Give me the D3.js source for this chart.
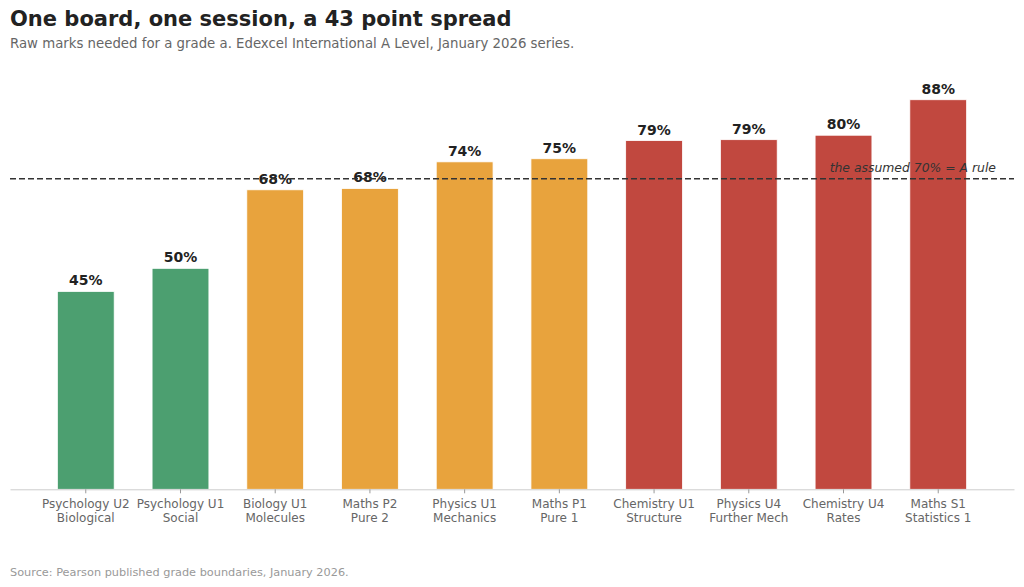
<!DOCTYPE html>
<html>
<head>
<meta charset="utf-8">
<script src="https://cdn.jsdelivr.net/npm/d3@7.9.0/dist/d3.min.js"></script>
<style>
  body { margin: 0; background: #fff; }
  svg { display: block; font-family: "DejaVu Sans", sans-serif; }
</style>
</head>
<body>
<svg id="chart" width="1024" height="587"></svg>
<script>
// data
const papers = ['Psychology U2', 'Psychology U1', 'Biology U1', 'Maths P2', 'Physics U1',
                'Maths P1', 'Chemistry U1', 'Physics U4', 'Chemistry U4', 'Maths S1'];
const units = ['Biological', 'Social', 'Molecules', 'Pure 2', 'Mechanics',
               'Pure 1', 'Structure', 'Further Mech', 'Rates', 'Statistics 1'];
const pctForA = [44.6, 49.8, 67.5, 67.8, 73.8, 74.5, 78.6, 78.8, 79.8, 87.8];
const band = ['low', 'low', 'mid', 'mid', 'mid', 'mid', 'high', 'high', 'high', 'high'];
const assumedRule = 70;

const bandColor = d3.scaleOrdinal()
  .domain(['low', 'mid', 'high'])
  .range(['#4c9f70', '#e8a33d', '#c1483f']);

const svg = d3.select('#chart');
const left = 10, right = 1014, base = 489.3;

const x = d3.scaleBand()
  .domain(papers)
  .range([left, right])
  .paddingInner(0.4)
  .paddingOuter(0.5);

const y = d3.scaleLinear()
  .domain([0, 100])
  .range([base, base - 443.7]);

// title and notes
svg.append('text')
  .attr('x', 10).attr('y', 26)
  .attr('font-size', 21).attr('font-weight', 'bold').attr('fill', '#222')
  .text('One board, one session, a 43 point spread');
svg.append('text')
  .attr('x', 10).attr('y', 48)
  .attr('font-size', 13.3).attr('fill', '#666')
  .text('Raw marks needed for a grade a. Edexcel International A Level, January 2026 series.');
svg.append('text')
  .attr('x', 10).attr('y', 576)
  .attr('font-size', 11.3).attr('fill', '#999')
  .text('Source: Pearson published grade boundaries, January 2026.');

// bars
svg.append('g')
  .selectAll('rect')
  .data(papers)
  .join('rect')
  .attr('x', d => x(d))
  .attr('width', x.bandwidth())
  .attr('y', (d, i) => y(pctForA[i]))
  .attr('height', (d, i) => base - y(pctForA[i]))
  .attr('fill', (d, i) => bandColor(band[i]))
  .attr('stroke', '#fff')
  .attr('stroke-width', 0.8);

// value labels
svg.append('g')
  .selectAll('text')
  .data(papers)
  .join('text')
  .attr('x', d => x(d) + x.bandwidth() / 2)
  .attr('y', (d, i) => y(pctForA[i]) - 6)
  .attr('text-anchor', 'middle')
  .attr('font-size', 14).attr('font-weight', 'bold').attr('fill', '#222')
  .text((d, i) => d3.format('.0f')(pctForA[i]) + '%');

// 70% reference line
svg.append('line')
  .attr('x1', left).attr('x2', right)
  .attr('y1', y(assumedRule)).attr('y2', y(assumedRule))
  .attr('stroke', '#333').attr('stroke-width', 1.5)
  .attr('stroke-dasharray', '6,3');
svg.append('text')
  .attr('x', 996).attr('y', y(assumedRule) - 7)
  .attr('text-anchor', 'end')
  .attr('font-size', 12.4).attr('font-style', 'italic').attr('fill', '#333')
  .text(`the assumed ${assumedRule}% = A rule`);

// x axis
const xAxis = svg.append('g')
  .attr('transform', `translate(0,${base})`)
  .call(d3.axisBottom(x).tickSize(4).tickSizeOuter(0));
xAxis.select('.domain').attr('stroke', '#ccc');
xAxis.selectAll('.tick line').attr('stroke', '#999');
xAxis.selectAll('.tick text').remove();
xAxis.selectAll('.tick').append('text')
  .attr('text-anchor', 'middle')
  .attr('font-size', 12).attr('fill', '#666')
  .attr('font-family', '"DejaVu Sans", sans-serif')
  .each(function (d, i) {
    const t = d3.select(this);
    t.append('tspan').attr('x', 0).attr('y', 19).text(d);
    t.append('tspan').attr('x', 0).attr('y', 32.5).text(units[i]);
  });
</script>
</body>
</html>
